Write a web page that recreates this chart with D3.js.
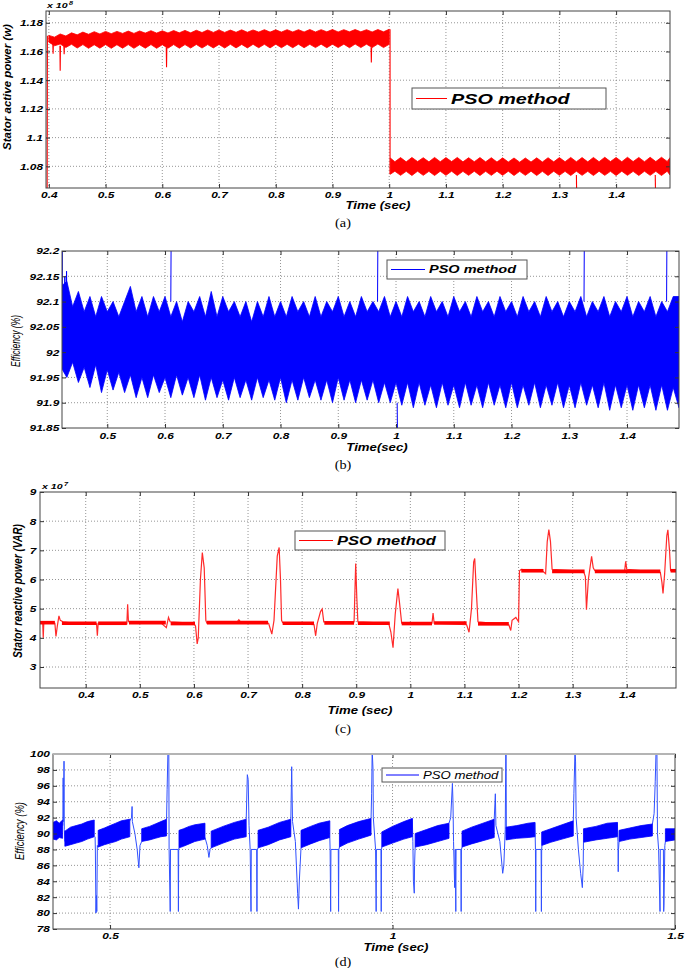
<!DOCTYPE html>
<html>
<head>
<meta charset="utf-8">
<script src="https://cdn.jsdelivr.net/npm/d3@7"></script>
<style>
  body { margin: 0; background: #fff; }
</style>
</head>
<body>
<div id="chart"></div>
<script>
// ---------- (a) stator active power, x 10^8 W ----------
var powTime1 = [0.40,0.41,0.42,0.43,0.44,0.45,0.46,0.47,0.48,0.49,0.50,0.51,0.52,0.53,0.54,0.55,0.56,0.57,0.58,0.59,
  0.60,0.61,0.62,0.63,0.64,0.65,0.66,0.67,0.68,0.69,0.70,0.71,0.72,0.73,0.74,0.75,0.76,0.77,0.78,0.79,
  0.80,0.81,0.82,0.83,0.84,0.85,0.86,0.87,0.88,0.89,0.90,0.91,0.92,0.93,0.94,0.95,0.96,0.97,0.98,0.99,1.00];
var powHigh1 = [1.1712,1.1700,1.1722,1.1708,1.1730,1.1716,1.1735,1.1720,1.1738,1.1722,1.1740,1.1724,1.1740,1.1726,1.1742,1.1726,1.1743,1.1728,1.1745,1.1728,
  1.1744,1.1729,1.1746,1.1730,1.1747,1.1730,1.1748,1.1732,1.1750,1.1733,1.1750,1.1733,1.1749,1.1734,1.1751,1.1734,1.1750,1.1735,1.1752,1.1735,
  1.1751,1.1735,1.1752,1.1736,1.1752,1.1736,1.1753,1.1736,1.1752,1.1737,1.1753,1.1736,1.1752,1.1737,1.1753,1.1737,1.1752,1.1736,1.1753,1.1737,1.1755];
var powLow1 = [1.1665,1.1640,1.1652,1.1628,1.1650,1.1624,1.1648,1.1622,1.1647,1.1623,1.1648,1.1622,1.1647,1.1623,1.1648,1.1622,1.1647,1.1623,1.1648,1.1622,
  1.1647,1.1623,1.1648,1.1623,1.1648,1.1624,1.1649,1.1624,1.1648,1.1625,1.1649,1.1624,1.1650,1.1625,1.1649,1.1625,1.1650,1.1626,1.1650,1.1625,
  1.1651,1.1626,1.1650,1.1626,1.1651,1.1626,1.1650,1.1627,1.1651,1.1626,1.1651,1.1627,1.1651,1.1626,1.1652,1.1627,1.1651,1.1627,1.1652,1.1627,1.1650];
var powTime2 = [1.002,1.01,1.02,1.03,1.04,1.05,1.06,1.07,1.08,1.09,1.10,1.11,1.12,1.13,1.14,1.15,1.16,1.17,1.18,1.19,
  1.20,1.21,1.22,1.23,1.24,1.25,1.26,1.27,1.28,1.29,1.30,1.31,1.32,1.33,1.34,1.35,1.36,1.37,1.38,1.39,
  1.40,1.41,1.42,1.43,1.44,1.45,1.46,1.47,1.48,1.49,1.495];
var powHigh2 = [1.0858,1.0832,1.0861,1.0831,1.0862,1.0833,1.0860,1.0831,1.0862,1.0832,1.0861,1.0833,1.0862,1.0831,1.0860,1.0832,1.0861,1.0831,1.0860,1.0830,
  1.0859,1.0830,1.0858,1.0829,1.0858,1.0830,1.0859,1.0830,1.0860,1.0831,1.0861,1.0832,1.0862,1.0832,1.0861,1.0831,1.0862,1.0832,1.0863,1.0833,
  1.0862,1.0832,1.0863,1.0833,1.0862,1.0832,1.0863,1.0833,1.0863,1.0834,1.0860];
var powLow2 = [1.0745,1.0766,1.0737,1.0765,1.0736,1.0766,1.0737,1.0765,1.0736,1.0766,1.0737,1.0766,1.0736,1.0765,1.0737,1.0766,1.0736,1.0765,1.0737,1.0766,
  1.0737,1.0766,1.0736,1.0765,1.0737,1.0766,1.0736,1.0765,1.0736,1.0766,1.0737,1.0765,1.0736,1.0766,1.0737,1.0765,1.0736,1.0766,1.0737,1.0765,
  1.0736,1.0766,1.0737,1.0765,1.0736,1.0766,1.0737,1.0765,1.0736,1.0766,1.0740];
var powSpikes = [
  [[0.397,1.060],[0.3975,1.171]],
  [[0.407,1.165],[0.4075,1.1585],[0.408,1.165]],
  [[0.4195,1.164],[0.420,1.1466],[0.4205,1.164]],
  [[0.4265,1.164],[0.427,1.158],[0.4275,1.164]],
  [[0.607,1.163],[0.6075,1.149],[0.608,1.163]],
  [[0.968,1.163],[0.9685,1.1524],[0.969,1.163]],
  [[1.0015,1.1755],[1.0015,1.0745]],
  [[1.330,1.074],[1.3305,1.060]],
  [[1.469,1.074],[1.4695,1.060]]
];
var powXTicks = [0.4,0.5,0.6,0.7,0.8,0.9,1,1.1,1.2,1.3,1.4];
var powXLabels = ["0.4","0.5","0.6","0.7","0.8","0.9","1","1.1","1.2","1.3","1.4"];
var powYTicks = [1.08,1.10,1.12,1.14,1.16,1.18];
var powYLabels = ["1.08","1.1","1.12","1.14","1.16","1.18"];

// ---------- (b) efficiency, % ----------
var effTime = [0.42,0.43,0.44,0.45,0.46,0.47,0.48,0.49,0.50,0.51,0.52,0.53,0.54,0.55,0.56,0.57,0.58,0.59,
  0.60,0.61,0.62,0.63,0.64,0.65,0.66,0.67,0.68,0.69,0.70,0.71,0.72,0.73,0.74,0.75,0.76,0.77,0.78,0.79,
  0.80,0.81,0.82,0.83,0.84,0.85,0.86,0.87,0.88,0.89,0.90,0.91,0.92,0.93,0.94,0.95,0.96,0.97,0.98,0.99,
  1.00,1.01,1.02,1.03,1.04,1.05,1.06,1.07,1.08,1.09,1.10,1.11,1.12,1.13,1.14,1.15,1.16,1.17,1.18,1.19,
  1.20,1.21,1.22,1.23,1.24,1.25,1.26,1.27,1.28,1.29,1.30,1.31,1.32,1.33,1.34,1.35,1.36,1.37,1.38,1.39,
  1.40,1.41,1.42,1.43,1.44,1.45,1.46,1.47,1.48,1.49];
var effHigh = [92.13,92.14,92.09,92.12,92.08,92.11,92.07,92.11,92.08,92.10,92.07,92.10,92.13,92.08,92.11,92.07,92.11,92.08,
  92.11,92.07,92.10,92.06,92.10,92.08,92.11,92.07,92.12,92.07,92.11,92.08,92.10,92.07,92.10,92.06,92.10,92.07,92.11,92.07,
  92.10,92.07,92.11,92.08,92.10,92.07,92.11,92.07,92.10,92.08,92.11,92.07,92.10,92.07,92.11,92.08,92.10,92.08,92.11,92.07,
  92.10,92.07,92.11,92.08,92.10,92.07,92.11,92.08,92.10,92.07,92.11,92.08,92.10,92.07,92.11,92.08,92.10,92.07,92.11,92.08,
  92.10,92.07,92.11,92.08,92.10,92.07,92.11,92.08,92.10,92.07,92.10,92.08,92.11,92.07,92.10,92.08,92.11,92.07,92.10,92.08,
  92.11,92.07,92.10,92.08,92.11,92.07,92.10,92.08,92.11,92.11];
var effLow = [91.97,91.95,91.98,91.94,91.97,91.93,91.975,91.92,91.965,91.925,91.96,91.92,91.955,91.91,91.95,91.91,91.955,91.92,
  91.95,91.91,91.955,91.915,91.95,91.91,91.955,91.905,91.95,91.91,91.945,91.905,91.95,91.91,91.945,91.905,91.95,91.91,91.945,91.905,
  91.95,91.90,91.945,91.905,91.95,91.91,91.945,91.905,91.945,91.90,91.95,91.905,91.945,91.90,91.945,91.905,91.945,91.90,91.94,91.90,
  91.94,91.895,91.94,91.89,91.94,91.895,91.935,91.89,91.94,91.895,91.935,91.89,91.94,91.895,91.935,91.89,91.94,91.895,91.935,91.89,
  91.94,91.89,91.935,91.895,91.94,91.89,91.935,91.895,91.94,91.89,91.935,91.89,91.94,91.895,91.935,91.89,91.94,91.885,91.935,91.89,
  91.935,91.885,91.935,91.89,91.935,91.885,91.935,91.885,91.93,91.89];
var effSpikes = [
  [[0.4222,92.0],[0.4222,92.21]],
  [[0.426,92.1],[0.4265,92.15],[0.427,92.1]],
  [[0.429,92.1],[0.4295,92.16],[0.430,92.1]],
  [[0.610,92.1],[0.6105,92.21]],
  [[0.968,92.1],[0.9685,92.21]],
  [[1.002,91.9],[1.0025,91.84]],
  [[1.3255,92.1],[1.326,92.21]],
  [[1.4685,92.1],[1.469,92.21]]
];
var effXTicks = [0.5,0.6,0.7,0.8,0.9,1,1.1,1.2,1.3,1.4];
var effXLabels = ["0.5","0.6","0.7","0.8","0.9","1","1.1","1.2","1.3","1.4"];
var effYTicks = [91.85,91.9,91.95,92,92.05,92.1,92.15,92.2];
var effYLabels = ["91.85","91.9","91.95","92","92.05","92.1","92.15","92.2"];

// ---------- (c) stator reactive power, x 10^7 VAR ----------
var reactTime = [0.3155,0.318,0.3205,0.3215,0.3225,0.330,0.343,0.345,0.3475,0.3505,0.353,0.358,0.380,0.420,0.4215,0.423,0.440,
  0.476,0.4775,0.479,0.500,0.540,0.549,0.553,0.556,0.600,0.603,0.606,0.608,0.612,0.6155,0.619,0.622,0.624,
  0.680,0.683,0.686,0.738,0.744,0.748,0.754,0.7575,0.760,0.762,0.764,0.822,0.825,0.828,0.834,0.837,0.840,
  0.896,0.899,0.901,0.903,0.960,0.964,0.968,0.972,0.977,0.980,0.984,1.040,1.042,1.044,1.104,1.1085,1.113,
  1.117,1.119,1.122,1.125,1.182,1.1856,1.188,1.195,1.200,1.2017,1.205,1.245,1.250,1.253,1.256,1.259,1.262,
  1.320,1.3235,1.3255,1.329,1.335,1.338,1.341,1.396,1.398,1.400,1.462,1.465,1.467,1.470,1.474,1.476,1.479,1.481,1.491];
var reactVal = [4.5,4.55,4.52,4.0,4.5,4.55,4.5,4.05,4.4,4.75,4.6,4.55,4.5,4.48,4.07,4.5,4.52,
  4.48,5.15,4.55,4.52,4.5,4.35,4.7,4.55,4.5,4.4,3.79,4.0,6.0,6.92,6.4,4.6,4.5,
  4.55,4.62,4.55,4.5,4.13,4.6,6.8,7.1,6.0,4.6,4.52,4.45,4.07,4.5,4.9,4.99,4.55,
  4.55,6.55,5.4,4.55,4.5,4.2,3.66,4.8,5.69,5.2,4.5,4.5,4.85,4.5,4.45,4.19,5.0,
  6.6,6.72,5.6,4.55,4.45,4.25,4.6,4.7,4.55,6.3,6.35,6.28,6.2,7.3,7.71,7.3,6.35,
  6.28,6.1,4.96,6.0,6.79,6.4,6.3,6.28,6.62,6.35,6.25,5.9,5.52,6.2,7.5,7.7,7.0,6.3,6.3];
var reactFlat = [[0.3155,0.343,4.52],[0.356,0.420,4.50],[0.423,0.476,4.50],[0.480,0.548,4.52],[0.557,0.602,4.49],
  [0.624,0.737,4.52],[0.764,0.822,4.50],[0.841,0.896,4.51],[0.903,0.962,4.50],[0.984,1.040,4.49],[1.044,1.104,4.51],
  [1.125,1.182,4.48],[1.205,1.246,6.30],[1.262,1.322,6.28],[1.341,1.462,6.28],[1.481,1.491,6.30]];
var reactXTicks = [0.4,0.5,0.6,0.7,0.8,0.9,1,1.1,1.2,1.3,1.4];
var reactXLabels = ["0.4","0.5","0.6","0.7","0.8","0.9","1","1.1","1.2","1.3","1.4"];
var reactYTicks = [3,4,5,6,7,8,9];
var reactYLabels = ["3","4","5","6","7","8","9"];

// ---------- (d) efficiency, % ----------
// each segment: [time, lower edge, upper edge]
var eff2Bands = [
  [[0.399,89.3,91.4],[0.405,89.2,91.6],[0.410,89.5,91.3],[0.416,89.4,91.7]],
  [[0.420,88.4,90.3],[0.430,88.6,90.8],[0.440,88.8,91.0],[0.450,89.0,91.2],[0.460,89.3,91.5],[0.472,89.6,91.7]],
  [[0.479,88.3,90.4],[0.490,88.6,90.7],[0.500,88.8,91.0],[0.510,89.0,91.3],[0.520,89.3,91.6],[0.535,89.6,91.8]],
  [[0.556,89.0,90.6],[0.570,89.2,90.9],[0.580,89.4,91.2],[0.590,89.6,91.5],[0.600,89.7,91.8]],
  [[0.622,88.2,90.4],[0.630,88.4,90.6],[0.640,88.7,90.9],[0.650,89.0,91.1],[0.668,89.3,91.3]],
  [[0.679,88.2,90.3],[0.700,88.8,90.9],[0.720,89.3,91.4],[0.741,89.6,91.8]],
  [[0.762,88.2,90.4],[0.780,88.6,90.8],[0.800,89.2,91.4],[0.820,89.6,91.8]],
  [[0.838,88.2,90.4],[0.855,88.7,90.9],[0.870,89.1,91.3],[0.889,89.5,91.6]],
  [[0.906,88.3,90.5],[0.920,88.8,91.0],[0.940,89.3,91.5],[0.962,89.8,91.9]],
  [[0.981,88.3,90.2],[1.000,88.8,90.9],[1.020,89.3,91.5],[1.035,89.6,91.9]],
  [[1.040,88.3,90.0],[1.060,88.6,90.5],[1.080,89.0,91.0],[1.100,89.4,91.3]],
  [[1.123,88.3,90.3],[1.140,88.7,90.8],[1.160,89.1,91.3],[1.180,89.5,91.8]],
  [[1.201,89.2,90.8],[1.220,89.4,91.0],[1.240,89.5,91.3],[1.252,89.6,91.4]],
  [[1.264,88.5,90.2],[1.280,88.9,90.6],[1.300,89.3,91.1],[1.320,89.7,91.6]],
  [[1.338,88.9,90.6],[1.360,89.2,90.9],[1.380,89.4,91.3],[1.398,89.6,91.4]],
  [[1.401,89.0,90.4],[1.420,89.3,90.7],[1.440,89.5,91.0],[1.460,89.7,91.2]],
  [[1.483,89.0,90.6],[1.500,89.2,90.6]]
];
var eff2Spikes = [
  [[0.4165,91.0],[0.417,97.0],[0.4175,91.5],[0.4185,99.1],[0.419,90.5],[0.420,89.0]],
  [[0.4735,89.6],[0.474,88.0],[0.475,80.0],[0.476,82.2],[0.4765,80.2],[0.4775,88.5],[0.479,88.3]],
  [[0.535,91.6],[0.538,92.0],[0.539,93.4],[0.5395,91.5],[0.544,90.0],[0.548,88.0],[0.551,85.7],[0.553,88.5],[0.556,89.0]],
  [[0.600,91.8],[0.601,95.5],[0.6025,100.5],[0.604,100.5],[0.6045,88.0],[0.6065,80.2],[0.607,88.0],[0.6205,88.0],[0.621,80.2],[0.6215,88.0],[0.622,88.2]],
  [[0.668,89.5],[0.672,88.5],[0.675,87.0],[0.677,88.0],[0.679,88.2]],
  [[0.741,91.8],[0.743,97.4],[0.7445,96.8],[0.746,91.0],[0.748,88.0],[0.7495,80.2],[0.750,88.0],[0.7595,88.0],[0.760,80.2],[0.7605,88.0],[0.762,88.2]],
  [[0.820,91.8],[0.8215,98.4],[0.823,91.5],[0.828,89.0],[0.832,82.5],[0.8335,80.5],[0.835,84.0],[0.838,88.2]],
  [[0.889,89.5],[0.8895,88.0],[0.8905,80.2],[0.891,88.0],[0.904,88.0],[0.9045,80.2],[0.905,88.0],[0.906,88.3]],
  [[0.962,91.9],[0.963,95.0],[0.964,100.5],[0.9655,98.0],[0.966,92.0],[0.970,88.0],[0.971,80.2],[0.9715,88.0],[0.9795,88.0],[0.980,80.2],[0.9805,88.0],[0.981,88.3]],
  [[1.035,91.9],[1.036,89.0],[1.037,84.0],[1.0385,82.5],[1.039,86.0],[1.040,88.3]],
  [[1.100,91.3],[1.103,92.0],[1.106,96.3],[1.107,94.0],[1.108,89.0],[1.110,83.2],[1.111,88.0],[1.112,80.2],[1.1125,88.0],[1.121,88.0],[1.1215,80.2],[1.122,88.0],[1.123,88.3]],
  [[1.180,91.8],[1.182,95.0],[1.183,91.0],[1.190,89.0],[1.195,85.0],[1.197,86.0],[1.1995,90.5],[1.2005,100.5],[1.201,100.5],[1.2015,89.5],[1.202,89.2]],
  [[1.252,91.4],[1.253,88.0],[1.2535,80.2],[1.254,88.0],[1.263,88.0],[1.2635,80.2],[1.264,88.0],[1.2645,88.5]],
  [[1.320,91.6],[1.321,95.0],[1.323,100.5],[1.324,99.0],[1.325,92.0],[1.329,88.0],[1.333,85.0],[1.336,83.2],[1.3375,86.0],[1.338,88.9]],
  [[1.398,91.4],[1.399,89.0],[1.3995,85.2],[1.400,88.0],[1.401,89.0]],
  [[1.460,91.2],[1.463,92.5],[1.465,96.5],[1.4665,100.5],[1.468,100.5],[1.469,90.0],[1.471,88.0],[1.4735,80.2],[1.474,88.0],[1.4795,88.0],[1.480,80.2],[1.4805,81.0],[1.482,88.5],[1.483,89.0]]
];
var eff2XTicks = [0.5,1,1.5];
var eff2XLabels = ["0.5","1","1.5"];
var eff2YTicks = [78,80,82,84,86,88,90,92,94,96,98,100];
var eff2YLabels = ["78","80","82","84","86","88","90","92","94","96","98","100"];

// ---------- drawing ----------
var FONT = '"Liberation Sans", Arial, sans-serif';
var SERIF = '"Liberation Serif", "Times New Roman", serif';
var SX = 1.32; // the original figure is stretched sideways

var svg = d3.select("#chart").append("svg")
    .attr("width", 685)
    .attr("height", 968);

function txt(x, y, s, size, o) {
  o = o || {};
  return svg.append("text")
    .attr("transform", "translate(" + x + "," + y + ") scale(" + (o.sx || SX) + ",1)")
    .attr("text-anchor", o.anchor || "start")
    .attr("font-family", o.family || FONT)
    .attr("font-size", size)
    .attr("font-weight", o.weight || "bold")
    .attr("font-style", o.style || "italic")
    .attr("fill", "#000")
    .text(s);
}

function caption(y, s) {
  txt(343, y, s, 13, { family: SERIF, weight: "normal", style: "normal", sx: 1.1, anchor: "middle" });
}

function ylabel(x, y, s, size, weight, k) {
  svg.append("text")
    .attr("transform", "translate(" + x + "," + y + ") rotate(-90) scale(1," + k + ")")
    .attr("text-anchor", "middle")
    .attr("font-family", FONT)
    .attr("font-size", size)
    .attr("font-weight", weight)
    .attr("font-style", "italic")
    .text(s);
}

function panel(p) {
  var x = d3.scaleLinear().domain(p.xDomain).range([p.left, p.right]);
  var y = d3.scaleLinear().domain(p.yDomain).range([p.bottom, p.top]);

  svg.append("clipPath").attr("id", "clip-" + p.id)
    .append("rect")
      .attr("x", p.left).attr("y", p.top)
      .attr("width", p.right - p.left).attr("height", p.bottom - p.top);

  // dotted grid
  var grid = svg.append("g").attr("stroke", "#7a7a7a").attr("stroke-width", 0.8)
    .attr("stroke-dasharray", "1,2");
  grid.selectAll("line.gx")
    .data(p.xTicks.filter(function(d) { return x(d) > p.left + 2 && x(d) < p.right - 2; }))
    .join("line").attr("class", "gx")
      .attr("x1", function(d) { return x(d); }).attr("x2", function(d) { return x(d); })
      .attr("y1", p.top).attr("y2", p.bottom);
  grid.selectAll("line.gy")
    .data(p.yTicks.filter(function(d) { return y(d) > p.top + 2 && y(d) < p.bottom - 2; }))
    .join("line").attr("class", "gy")
      .attr("y1", function(d) { return y(d); }).attr("y2", function(d) { return y(d); })
      .attr("x1", p.left).attr("x2", p.right);

  var plot = svg.append("g").attr("clip-path", "url(#clip-" + p.id + ")");
  return { x: x, y: y, plot: plot };
}

function axes(p, s) {
  var bottom = d3.axisBottom(s.x).tickValues(p.xTicks)
    .tickFormat(function(d, i) { return p.xLabels[i]; })
    .tickSizeInner(-4).tickSizeOuter(0).tickPadding(p.xPad);
  var left = d3.axisLeft(s.y).tickValues(p.yTicks)
    .tickFormat(function(d, i) { return p.yLabels[i]; })
    .tickSizeInner(-4).tickSizeOuter(0).tickPadding(p.yPad);
  var top = d3.axisTop(s.x).tickValues(p.xTicks).tickFormat("").tickSizeInner(-4).tickSizeOuter(0);
  var right = d3.axisRight(s.y).tickValues(p.yTicks).tickFormat("").tickSizeInner(-4).tickSizeOuter(0);

  var gb = svg.append("g").attr("transform", "translate(0," + p.bottom + ")").call(bottom);
  var gl = svg.append("g").attr("transform", "translate(" + p.left + ",0)").call(left);
  var gt = svg.append("g").attr("transform", "translate(0," + p.top + ")").call(top);
  var gr = svg.append("g").attr("transform", "translate(" + p.right + ",0)").call(right);
  [gb, gl, gt, gr].forEach(function(g) {
    g.attr("color", "#333").select(".domain").remove();
    g.selectAll("text")
      .attr("transform", "scale(" + SX + ",1)")
      .attr("font-family", FONT)
      .attr("font-size", p.tickSize)
      .attr("font-weight", "bold")
      .attr("font-style", "italic")
      .attr("fill", "#000");
  });
  gl.selectAll("text").attr("x", -p.yPad);

  // box
  svg.append("rect")
    .attr("x", p.left).attr("y", p.top)
    .attr("width", p.right - p.left).attr("height", p.bottom - p.top)
    .attr("fill", "none").attr("stroke", "#444").attr("stroke-width", 1);
  if (p.topColor) {
    svg.append("line").attr("x1", p.left).attr("x2", p.right)
      .attr("y1", p.top).attr("y2", p.top)
      .attr("stroke", p.topColor).attr("stroke-width", 2);
  }
}

function legend(b, color, size, weight) {
  svg.append("rect")
    .attr("x", b[0]).attr("y", b[1]).attr("width", b[2] - b[0]).attr("height", b[3] - b[1])
    .attr("fill", "#fff").attr("stroke", "#555").attr("stroke-width", 1);
  var cy = (b[1] + b[3]) / 2;
  svg.append("line")
    .attr("x1", b[0] + 4).attr("x2", b[4]).attr("y1", cy).attr("y2", cy)
    .attr("stroke", color).attr("stroke-width", 1);
  txt(b[4] + 4, cy + size * 0.36, "PSO method", size, { weight: weight });
}

var line = function(s) {
  return d3.line().x(function(d) { return s.x(d[0]); }).y(function(d) { return s.y(d[1]); });
};

// ----- panel (a)
var pa = { id: "a", left: 46, right: 670, top: 11, bottom: 188,
  xDomain: [0.395, 1.495], yDomain: [1.0649, 1.1882],
  xTicks: powXTicks, xLabels: powXLabels, yTicks: powYTicks, yLabels: powYLabels,
  xPad: 3.2, yPad: 2.3, tickSize: 9 };
var sa = panel(pa);
[[powTime1, powHigh1, powLow1], [powTime2, powHigh2, powLow2]].forEach(function(seg) {
  sa.plot.append("path")
    .datum(seg[0].map(function(t, i) { return [t, seg[2][i], seg[1][i]]; }))
    .attr("fill", "#ff0000").attr("stroke", "#ff0000").attr("stroke-width", 0.8)
    .attr("d", d3.area().x(function(d) { return sa.x(d[0]); })
      .y0(function(d) { return sa.y(d[1]); }).y1(function(d) { return sa.y(d[2]); }));
});
sa.plot.selectAll("path.spk").data(powSpikes).join("path").attr("class", "spk")
  .attr("fill", "none").attr("stroke", "#ff0000").attr("stroke-width", 1.1)
  .attr("d", line(sa));
axes(pa, sa);
legend([412, 88, 606, 109, 447], "#ff0000", 15, "bold");
txt(47, 8, "x 10", 8);
txt(69, 4.5, "8", 5.5);
ylabel(10.5, 87, "Stator active power (w)", 11.5, "bold", 1);
txt(378, 208.5, "Time (sec)", 10, { anchor: "middle" });
caption(227, "(a)");

// ----- panel (b)
var pb = { id: "b", left: 62, right: 679, top: 251, bottom: 428,
  xDomain: [0.4216, 1.49], yDomain: [91.85, 92.2],
  xTicks: effXTicks, xLabels: effXLabels, yTicks: effYTicks, yLabels: effYLabels,
  xPad: 4.5, yPad: 2.1, tickSize: 9 };
var sb = panel(pb);
sb.plot.append("path")
  .datum(effTime.map(function(t, i) { return [t, effLow[i], effHigh[i]]; }))
  .attr("fill", "#0000ff").attr("stroke", "#0000ff").attr("stroke-width", 0.8)
  .attr("d", d3.area().x(function(d) { return sb.x(d[0]); })
    .y0(function(d) { return sb.y(d[1]); }).y1(function(d) { return sb.y(d[2]); }));
sb.plot.selectAll("path.spk").data(effSpikes).join("path").attr("class", "spk")
  .attr("fill", "none").attr("stroke", "#0000ff").attr("stroke-width", 1)
  .attr("d", line(sb));
axes(pb, sb);
legend([387, 260, 527, 279, 425], "#0000ff", 11, "bold");
ylabel(19.5, 341, "Efficiency (%)", 8.5, "normal", 1.45);
txt(377, 450.5, "Time(sec)", 10, { anchor: "middle" });
caption(469, "(b)");

// ----- panel (c)
var pc = { id: "c", left: 40, right: 676, top: 492, bottom: 688,
  xDomain: [0.3155, 1.491], yDomain: [2.28, 9],
  xTicks: reactXTicks, xLabels: reactXLabels, yTicks: reactYTicks, yLabels: reactYLabels,
  xPad: 3.8, yPad: 2.7, tickSize: 9 };
var sc = panel(pc);
sc.plot.append("path")
  .datum(reactTime.map(function(t, i) { return [t, reactVal[i]]; }))
  .attr("fill", "none").attr("stroke", "#ff2a2a").attr("stroke-width", 1.2)
  .attr("d", line(sc));
sc.plot.selectAll("path.flat").data(reactFlat).join("path").attr("class", "flat")
  .attr("fill", "none").attr("stroke", "#ff0000").attr("stroke-width", 3.6)
  .attr("d", function(d) { return line(sc)([[d[0], d[2]], [d[1], d[2]]]); });
axes(pc, sc);
legend([295, 531, 445, 550, 333], "#ff0000", 12.5, "bold");
txt(42, 489, "x 10", 8);
txt(64, 485.5, "7", 5.5);
ylabel(22, 591, "Stator reactive power (VAR)", 10.2, "bold", 1.2);
txt(360, 713.5, "Time (sec)", 10, { anchor: "middle" });
caption(733, "(c)");

// ----- panel (d)
var pd = { id: "d", left: 53, right: 675, top: 754, bottom: 929,
  xDomain: [0.399, 1.5], yDomain: [78, 100],
  xTicks: eff2XTicks, xLabels: eff2XLabels, yTicks: eff2YTicks, yLabels: eff2YLabels,
  xPad: 3.2, yPad: 2.4, tickSize: 9, topColor: "#b4b4b4" };
var sd = panel(pd);
sd.plot.selectAll("path.spk").data(eff2Spikes).join("path").attr("class", "spk")
  .attr("fill", "none").attr("stroke", "#3050ff").attr("stroke-width", 1)
  .attr("d", line(sd));
sd.plot.selectAll("path.band").data(eff2Bands).join("path").attr("class", "band")
  .attr("fill", "#0000ff").attr("stroke", "#0000ff").attr("stroke-width", 0.8)
  .attr("d", d3.area().x(function(d) { return sd.x(d[0]); })
    .y0(function(d) { return sd.y(d[1]); }).y1(function(d) { return sd.y(d[2]); }));
axes(pd, sd);
legend([382, 768, 502, 782, 419], "#0000ff", 10, "normal");
ylabel(24, 831, "Efficiency (%)", 9.5, "normal", 1.3);
txt(396, 950.5, "Time (sec)", 10, { anchor: "middle" });
caption(965.5, "(d)");
</script>
</body>
</html>
